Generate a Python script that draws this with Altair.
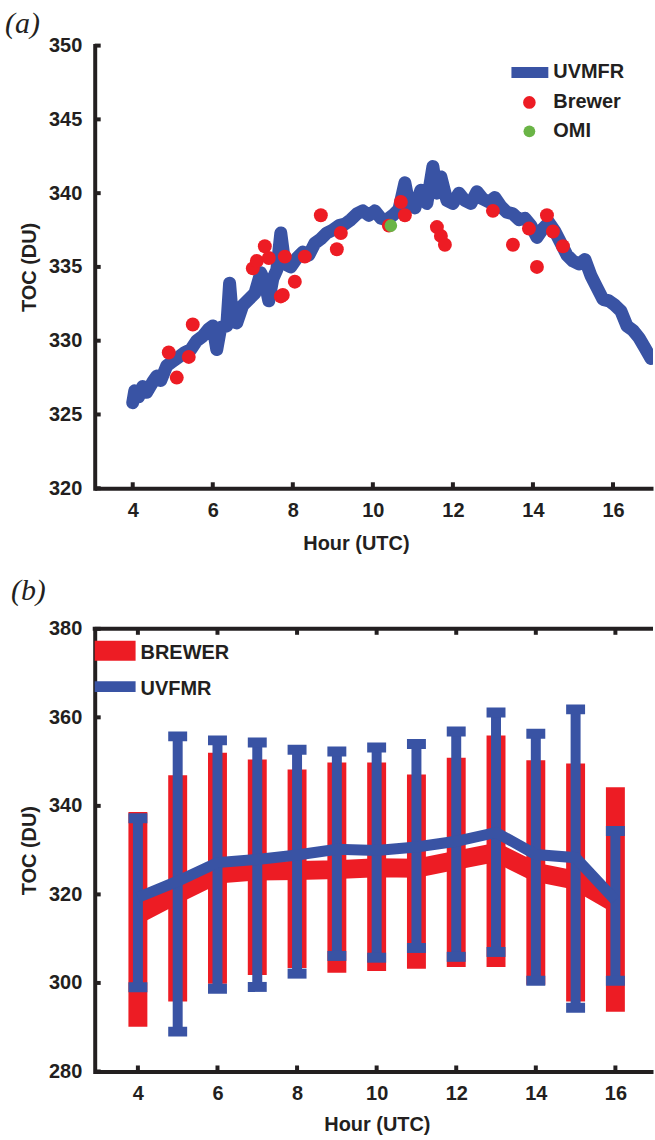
import altair as alt
import pandas as pd

# ---------------- panel (a) data ----------------
uv_hour = [4.00, 4.05, 4.15, 4.25, 4.35, 4.50, 4.60, 4.70, 4.85, 5.00, 5.15, 5.30, 5.45, 5.60,
           5.75, 5.90, 6.00, 6.10, 6.20, 6.35, 6.42, 6.50, 6.60, 6.75, 6.90, 7.05, 7.20, 7.30,
           7.40, 7.50, 7.60, 7.70, 7.80, 7.95, 8.10, 8.25, 8.40, 8.55, 8.70, 8.85, 9.00, 9.15,
           9.30, 9.45, 9.60, 9.75, 9.90, 10.05, 10.20, 10.35, 10.50, 10.65, 10.80, 10.90, 11.05,
           11.20, 11.35, 11.50, 11.60, 11.70, 11.85, 12.00, 12.15, 12.30, 12.45, 12.60, 12.75,
           12.90, 13.05, 13.20, 13.35, 13.50, 13.65, 13.80, 13.95, 14.10, 14.25, 14.40, 14.55,
           14.70, 14.85, 15.00, 15.15, 15.30, 15.45, 15.60, 15.75, 15.90, 16.05, 16.20, 16.35,
           16.50, 16.65, 16.80, 16.95]
uv_toc = [325.8, 326.6, 326.2, 326.9, 326.5, 327.2, 327.6, 327.3, 328.3, 328.6, 328.9, 329.2,
          329.4, 330.0, 330.3, 330.8, 331.0, 329.4, 330.9, 331.0, 333.9, 331.3, 331.2, 332.4,
          332.8, 333.2, 334.6, 334.0, 332.7, 334.2, 334.8, 337.3, 335.2, 335.0, 335.6, 336.0,
          335.8, 336.6, 336.9, 337.3, 337.5, 337.8, 337.9, 338.2, 338.6, 338.8, 338.5, 338.8,
          338.3, 338.2, 338.5, 338.9, 340.7, 339.3, 339.0, 340.2, 339.3, 341.8, 340.0, 341.1,
          339.5, 339.3, 340.0, 339.5, 339.3, 340.1, 339.6, 339.4, 339.7, 339.1, 338.7, 338.6,
          338.2, 338.3, 337.8, 337.0, 337.6, 338.0, 337.4, 336.6, 335.8, 335.4, 335.2, 335.5,
          334.4, 333.6, 332.8, 332.7, 332.4, 332.0, 331.0, 330.7, 330.2, 329.5, 328.8]
brewer_hour = [4.9, 5.1, 5.4, 5.5, 7.0, 7.1, 7.3, 7.4, 7.7, 7.75, 7.8, 8.05, 8.3, 8.7, 9.2,
               9.1, 10.4, 10.7, 10.8, 11.6, 11.7, 11.8, 13.0, 13.5, 13.9, 14.1, 14.35, 14.5, 14.75]
brewer_toc = [329.2, 327.5, 328.9, 331.1, 334.9, 335.4, 336.4, 335.6, 333.0, 333.1, 335.7,
              334.0, 335.7, 338.5, 337.3, 336.2, 337.8, 339.4, 338.5, 337.7, 337.1, 336.5,
              338.8, 336.5, 337.6, 335.0, 338.5, 337.4, 336.4]
omi_hour = [10.45]
omi_toc = [337.8]
a_xticks = [4, 6, 8, 10, 12, 14, 16]
a_yticks = [320, 325, 330, 335, 340, 345, 350]
a_legend = ["UVMFR", "Brewer", "OMI"]

# ---------------- panel (b) data ----------------
b_hour = [4, 5, 6, 7, 8, 9, 10, 11, 12, 13, 14, 15, 16]
brewer_mean = [315.5, 320.2, 324.6, 325.3, 325.4, 325.6, 326.0, 325.9, 327.7, 329.5, 325.0, 323.2, 318.0]
brewer_low = [290.1, 295.8, 299.8, 301.8, 303.4, 302.3, 302.7, 303.2, 303.6, 303.6, 299.6, 295.8, 293.5]
brewer_high = [338.6, 346.9, 352.0, 350.5, 348.2, 349.8, 349.8, 347.1, 350.9, 355.9, 350.3, 349.6, 344.2]
uv_mean = [319.3, 323.0, 327.2, 327.9, 328.9, 330.2, 329.9, 330.7, 332.0, 334.0, 329.0, 328.3, 318.7]
uv_low = [299.0, 289.0, 298.7, 299.1, 302.1, 306.1, 305.7, 307.9, 305.9, 307.0, 300.5, 294.4, 300.5]
uv_high = [337.2, 355.7, 354.8, 354.3, 352.7, 352.3, 353.2, 354.0, 356.8, 361.1, 356.3, 361.8, 334.3]
b_xticks = [4, 6, 8, 10, 12, 14, 16]
b_yticks = [280, 300, 320, 340, 360, 380]
b_legend = ["BREWER", "UVFMR"]

# ---------------- styling ----------------
W, H = 560, 444
BLUE = "#3953a4"
RED = "#ed1c24"
GREEN = "#6ab446"
BLACK = "#231f20"
FONT = "Liberation Sans"


def x_axis(values, title_x, title_y):
    return alt.Axis(values=values, title="Hour (UTC)", labelPadding=12, titleX=title_x,
                    titleY=title_y, titleBaseline="middle", titleAlign="center",
                    domainCap="butt", labelFlush=False, labelOverlap=False)


def y_axis(values):
    return alt.Axis(values=values, title="TOC (DU)", labelPadding=13, titleX=-65,
                    titleY=H / 2, titleAlign="center", titleBaseline="middle",
                    domainCap="square", labelFlush=False, labelOverlap=False)


def tick_layers(xs, ys, xax, yax, xticks, yticks, top=False):
    layers = [
        alt.Chart(pd.DataFrame({"v": xticks})).mark_rule(color=BLACK, strokeWidth=4).encode(
            x=alt.X("v:Q", scale=xs, axis=xax), y=alt.value(H), y2=alt.value(H - 6)),
        alt.Chart(pd.DataFrame({"v": yticks})).mark_rule(color=BLACK, strokeWidth=4).encode(
            y=alt.Y("v:Q", scale=ys, axis=yax), x=alt.value(0), x2=alt.value(6)),
    ]
    if top:
        layers.append(
            alt.Chart(pd.DataFrame({"v": xticks})).mark_rule(color=BLACK, strokeWidth=4).encode(
                x=alt.X("v:Q", scale=xs, axis=xax), y=alt.value(0), y2=alt.value(6)))
        layers.append(
            alt.Chart(pd.DataFrame({"v": [0]})).mark_rule(color=BLACK, strokeWidth=4).encode(
                x=alt.value(-2), x2=alt.value(W), y=alt.value(0)))
    return layers


def label_text(txt, x, y, **kw):
    return alt.Chart(pd.DataFrame({"t": [txt]})).mark_text(
        align="left", baseline="middle", color=BLACK, **kw).encode(
        text="t:N", x=alt.value(x), y=alt.value(y))


# ---------------- panel (a) ----------------
xa = alt.Scale(domain=[3.05, 17.0], nice=False, zero=False)
ya = alt.Scale(domain=[320, 350], nice=False, zero=False)
xa_ax = x_axis(a_xticks, 262, 55)
ya_ax = y_axis(a_yticks)

df_uv = pd.DataFrame({"hour": uv_hour, "toc": uv_toc})
df_br = pd.DataFrame({"hour": brewer_hour, "toc": brewer_toc})
df_omi = pd.DataFrame({"hour": omi_hour, "toc": omi_toc})

ax_enc = dict(x=alt.X("hour:Q", scale=xa, axis=xa_ax), y=alt.Y("toc:Q", scale=ya, axis=ya_ax))

a_line = alt.Chart(df_uv).mark_line(color=BLUE, strokeWidth=13, strokeCap="round",
                                    strokeJoin="round", clip=True).encode(**ax_enc)
a_br = alt.Chart(df_br).mark_point(shape="circle", filled=True, size=195, color=RED,
                                   opacity=1, clip=True).encode(**ax_enc)
a_omi = alt.Chart(df_omi).mark_point(shape="circle", filled=True, size=160, color=GREEN,
                                     opacity=1, clip=True).encode(**ax_enc)

a_leg = [
    alt.Chart(pd.DataFrame({"t": [a_legend[0]]})).mark_rule(color=BLUE, strokeWidth=11).encode(
        x=alt.value(418), x2=alt.value(455), y=alt.value(27)),
    label_text(a_legend[0], 460, 27, font=FONT, fontSize=20, fontWeight="bold"),
    alt.Chart(pd.DataFrame({"t": [a_legend[1]]})).mark_point(
        shape="circle", filled=True, size=160, color=RED, opacity=1).encode(
        x=alt.value(436), y=alt.value(57)),
    label_text(a_legend[1], 460, 57, font=FONT, fontSize=20, fontWeight="bold"),
    alt.Chart(pd.DataFrame({"t": [a_legend[2]]})).mark_point(
        shape="circle", filled=True, size=140, color=GREEN, opacity=1).encode(
        x=alt.value(436), y=alt.value(86)),
    label_text(a_legend[2], 460, 86, font=FONT, fontSize=20, fontWeight="bold"),
]

panel_a = alt.layer(
    a_line, a_br, a_omi, *tick_layers(xa, ya, xa_ax, ya_ax, a_xticks, a_yticks), *a_leg,
    label_text("(a)", -90, -22, font="Liberation Serif", fontSize=30, fontStyle="italic"),
).properties(width=W, height=H)

# ---------------- panel (b) ----------------
xb = alt.Scale(domain=[3.04, 16.82], nice=False, zero=False)
yb = alt.Scale(domain=[280, 380], nice=False, zero=False)
xb_ax = x_axis(b_xticks, 283, 53)
yb_ax = y_axis(b_yticks)

df_b = pd.DataFrame({"hour": b_hour, "b_mean": brewer_mean, "b_low": brewer_low,
                     "b_high": brewer_high, "u_mean": uv_mean, "u_low": uv_low,
                     "u_high": uv_high})
base_b = alt.Chart(df_b)
bx = alt.X("hour:Q", scale=xb, axis=xb_ax)


def by(field):
    return alt.Y(field, type="quantitative", scale=yb, axis=yb_ax)


b_bars = base_b.mark_bar(width=19, color=RED, clip=True).encode(
    x=bx, y=by("b_low"), y2="b_high:Q")
b_line = base_b.mark_line(color=RED, strokeWidth=19, clip=True).encode(x=bx, y=by("b_mean"))
u_bars = base_b.mark_rule(color=BLUE, strokeWidth=10, clip=True).encode(
    x=bx, y=by("u_low"), y2="u_high:Q")
u_cap_lo = base_b.mark_tick(color=BLUE, thickness=10, size=19, orient="horizontal",
                            opacity=1, clip=True).encode(x=bx, y=by("u_low"))
u_cap_hi = base_b.mark_tick(color=BLUE, thickness=10, size=19, orient="horizontal",
                            opacity=1, clip=True).encode(x=bx, y=by("u_high"))
u_line = base_b.mark_line(color=BLUE, strokeWidth=11, clip=True).encode(x=bx, y=by("u_mean"))

b_leg = [
    alt.Chart(pd.DataFrame({"t": [b_legend[0]]})).mark_rule(color=RED, strokeWidth=20).encode(
        x=alt.value(0), x2=alt.value(41), y=alt.value(22)),
    label_text(b_legend[0], 46, 24, font=FONT, fontSize=20, fontWeight="bold"),
    alt.Chart(pd.DataFrame({"t": [b_legend[1]]})).mark_rule(color=BLUE, strokeWidth=11).encode(
        x=alt.value(0), x2=alt.value(41), y=alt.value(58)),
    label_text(b_legend[1], 46, 60, font=FONT, fontSize=20, fontWeight="bold"),
]

panel_b = alt.layer(
    b_bars, b_line, u_bars, u_cap_lo, u_cap_hi, u_line,
    *tick_layers(xb, yb, xb_ax, yb_ax, b_xticks, b_yticks, top=True), *b_leg,
    label_text("(b)", -84, -38, font="Liberation Serif", fontSize=30, fontStyle="italic"),
).properties(width=W, height=H)

chart = alt.vconcat(panel_a, panel_b, spacing=23).properties(
    padding={"left": 5, "top": 7, "right": 0, "bottom": 0}
).configure_view(stroke=None).configure_axis(
    labelFont=FONT, labelFontSize=20, labelFontWeight="bold", labelColor=BLACK,
    titleFont=FONT, titleFontSize=20, titleFontWeight="bold", titleColor=BLACK,
    domainColor=BLACK, domainWidth=4, ticks=False, grid=False)

chart.save("out.html", embed_options={"renderer": "svg", "actions": False})
